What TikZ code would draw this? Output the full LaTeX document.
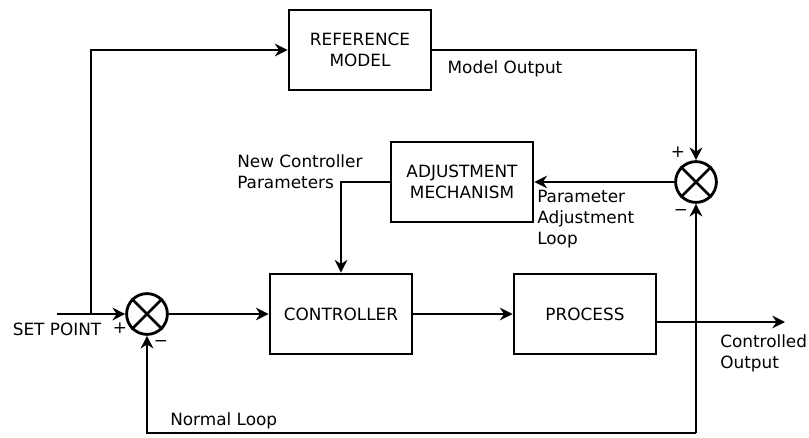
\documentclass[tikz,border=0pt]{standalone}
\usepackage{fontspec}
\setmainfont{DejaVu Sans}
\usetikzlibrary{calc, arrows.meta}

\tikzset{
    block/.style={draw, line width=2pt, minimum width=3.55cm, minimum height=2cm, align=center},
    sumnode/.style={draw, circle, line width=2pt, minimum size=1.02cm, inner sep=0pt},
    wire/.style={line width=2pt},
    flow/.style={wire, -{Stealth[length=9pt, width=9pt]}},
    lbl/.style={align=left, inner sep=0pt}
}

\begin{document}
\begin{tikzpicture}[x=0.025cm, y=-0.025cm, font=\fontsize{12}{15}\selectfont]
    \useasboundingbox (0,0) rectangle (809,438);

    % Blocks
    \node[block] (ref) at (360,50) {REFERENCE\\MODEL};
    \node[block] (adj) at (462,182) {ADJUSTMENT\\MECHANISM};
    \node[block] (ctrl) at (341,314) {CONTROLLER};
    \node[block] (proc) at (585,314) {PROCESS};

    % Summing junctions
    \node[sumnode] (s1) at (147,314) {};
    \node[sumnode] (s2) at (696,182) {};
    \foreach \s in {s1, s2}{
        \draw[line width=1.8pt] (\s.north east) -- (\s.south west)
            (\s.north west) -- (\s.south east);
    }

    % Free ends and branch points
    \coordinate (sp) at (57,314);
    \coordinate (br) at (91,314);
    \coordinate (out) at (785,322);
    \coordinate (fb) at (696,433);

    % Forward path
    \draw[flow] (sp) -- (s1.west);
    \draw[flow] (s1.east) -- (ctrl.west);
    \draw[flow] (ctrl.east) -- (proc.west);
    \draw[flow] (proc.east |- out) -- (out);

    % Reference model branch
    \draw[flow] (br) |- (ref.west);
    \draw[flow] (ref.east) -| (s2.north);

    % Adjustment loop
    \draw[flow] (s2.west) -- (adj.east);
    \draw[flow] (adj.west) -| (ctrl.north);

    % Feedback from the plant output
    \draw[flow] (fb) -- (s2.south);
    \draw[flow] (fb) -- (s1 |- fb) -- (s1.south);

    % Signs
    \node at (120,328) {+};
    \node at (161,344) {−};
    \node at (678,152) {+};
    \node at (681,213) {−};

    % Labels
    \node at (57,329) {SET POINT};
    \node at (505,69) {Model Output};
    \node[lbl, anchor=west] at (237,172) {New Controller\\Parameters};
    \node[lbl, anchor=west] at (537,219) {Parameter\\Adjustment\\Loop};
    \node[lbl, anchor=west] at (720,353) {Controlled\\Output};
    \node[lbl, anchor=west] at (170,421) {Normal Loop};

\end{tikzpicture}
\end{document}
